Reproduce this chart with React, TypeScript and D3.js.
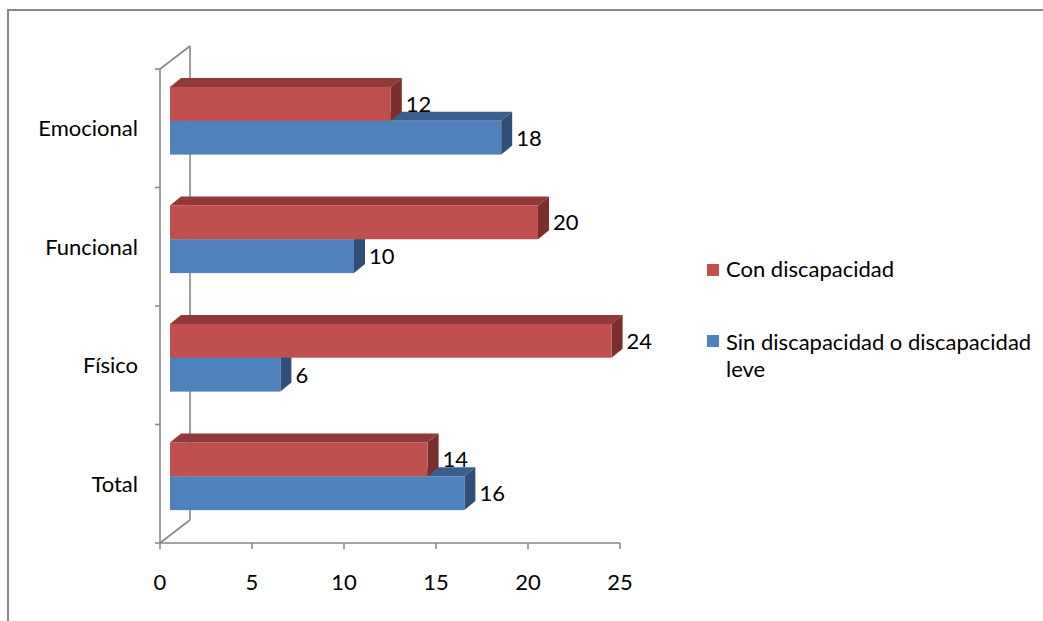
import React from "react";
import * as d3 from "d3";

// Categories listed top to bottom as they appear on the vertical axis
const categories = ["Emocional", "Funcional", "Físico", "Total"];
const conDiscapacidad = [12, 20, 24, 14];
const sinDiscapacidad = [18, 10, 6, 16];
const xTicks = [0, 5, 10, 15, 20, 25];
const seriesNames = ["Con discapacidad", "Sin discapacidad o discapacidad", "leve"];

const W = 1043;
const H = 621;
const FONT = "Lato, 'Open Sans', sans-serif";
const FS = 22;
const AXIS = "#878787";

// 3-D offsets: side wall depth, bar front-face offset, bar depth
const WALL = { dx: 30, dy: -23 };
const FRONT = { dx: 10, dy: -7.5 };
const DEPTH = { dx: 11, dy: -9 };

const RED = { front: "#C0504D", top: "#8F3A38", side: "#7B2F2D" };
const BLUE = { front: "#4F81BD", top: "#3B5F8C", side: "#2F4F79" };

export default function App() {
  const x = d3.scaleLinear().domain([0, 25]).range([160, 620]);
  const y = d3.scaleBand<string>().domain(categories).range([69, 543]).paddingInner(0).paddingOuter(0);
  const bw = y.bandwidth();
  const barH = bw / 3.5;
  const yBottom = 543;
  const yTop = 69;

  const bar = (key: string, v: number, frontY: number, c: typeof RED) => {
    const x0 = x(0) + FRONT.dx;
    const x1 = x(v) + FRONT.dx;
    const y0 = frontY + FRONT.dy;
    const y1 = y0 + barH;
    const top = [
      [x0, y0],
      [x1, y0],
      [x1 + DEPTH.dx, y0 + DEPTH.dy],
      [x0 + DEPTH.dx, y0 + DEPTH.dy],
    ];
    const side = [
      [x1, y0],
      [x1 + DEPTH.dx, y0 + DEPTH.dy],
      [x1 + DEPTH.dx, y1 + DEPTH.dy],
      [x1, y1],
    ];
    const pts = (p: number[][]) => p.map((q) => q.join(",")).join(" ");
    return (
      <g key={key}>
        <polygon points={pts(top)} fill={c.top} />
        <polygon points={pts(side)} fill={c.side} />
        <rect x={x0} y={y0} width={x1 - x0} height={barH} fill={c.front} />
        <text
          x={x1 + DEPTH.dx + 4}
          y={(y0 + y1) / 2 + FS * 0.36}
          fontFamily={FONT}
          fontSize={FS}
          fill="#000"
        >
          {v}
        </text>
      </g>
    );
  };

  return (
    <div style={{ position: "fixed", left: 0, top: 0, width: W, height: H, background: "#fff" }}>
      <svg width={W} height={H} style={{ display: "block" }}>
        <rect x={0} y={0} width={W} height={H} fill="#fff" />
        {/* chart frame */}
        <rect x={8} y={10} width={W + 20} height={H + 20} fill="none" stroke={AXIS} strokeWidth={2} />

        {/* side wall edges */}
        <g stroke={AXIS} strokeWidth={1.6} fill="none">
          <line x1={x(0)} y1={yTop} x2={x(0) + WALL.dx} y2={yTop + WALL.dy} />
          <line x1={x(0) + WALL.dx} y1={yTop + WALL.dy} x2={x(0) + WALL.dx} y2={yBottom + WALL.dy} />
          <line x1={x(0)} y1={yBottom} x2={x(0) + WALL.dx} y2={yBottom + WALL.dy} />
          <line x1={x(0)} y1={yTop} x2={x(0)} y2={yBottom} />
          <line x1={x(0)} y1={yBottom} x2={x(25)} y2={yBottom} />
          {[...categories.map((c) => y(c) as number), yBottom].map((t, i) => (
            <line key={"ct" + i} x1={x(0) - 5} y1={t} x2={x(0)} y2={t} />
          ))}
          {xTicks.map((t) => (
            <line key={"xt" + t} x1={x(t)} y1={yBottom} x2={x(t)} y2={yBottom + 6} />
          ))}
        </g>

        {/* bars: lower series first so the upper bar's face covers its top */}
        {categories.map((c, i) => {
          const gTop = (y(c) as number) + (bw - 2 * barH) / 2;
          return (
            <g key={c}>
              {bar(c + "-sin", sinDiscapacidad[i], gTop + barH, BLUE)}
              {bar(c + "-con", conDiscapacidad[i], gTop, RED)}
            </g>
          );
        })}

        {/* category labels */}
        {categories.map((c) => (
          <text
            key={"lab" + c}
            x={138}
            y={(y(c) as number) + bw / 2 + FS * 0.36}
            textAnchor="end"
            fontFamily={FONT}
            fontSize={FS}
            fill="#000"
          >
            {c}
          </text>
        ))}

        {/* value axis labels */}
        {xTicks.map((t) => (
          <text
            key={"xl" + t}
            x={x(t)}
            y={582 + FS * 0.36}
            textAnchor="middle"
            fontFamily={FONT}
            fontSize={FS}
            fill="#000"
          >
            {t}
          </text>
        ))}

        {/* legend */}
        <rect x={707} y={264} width={12} height={12} fill={RED.front} />
        <text x={726} y={269 + FS * 0.36} fontFamily={FONT} fontSize={FS} fill="#000">
          {seriesNames[0]}
        </text>
        <rect x={707} y={335} width={12} height={12} fill={BLUE.front} />
        <text x={726} y={342 + FS * 0.36} fontFamily={FONT} fontSize={FS} fill="#000">
          {seriesNames[1]}
        </text>
        <text x={726} y={369 + FS * 0.36} fontFamily={FONT} fontSize={FS} fill="#000">
          {seriesNames[2]}
        </text>
      </svg>
    </div>
  );
}
